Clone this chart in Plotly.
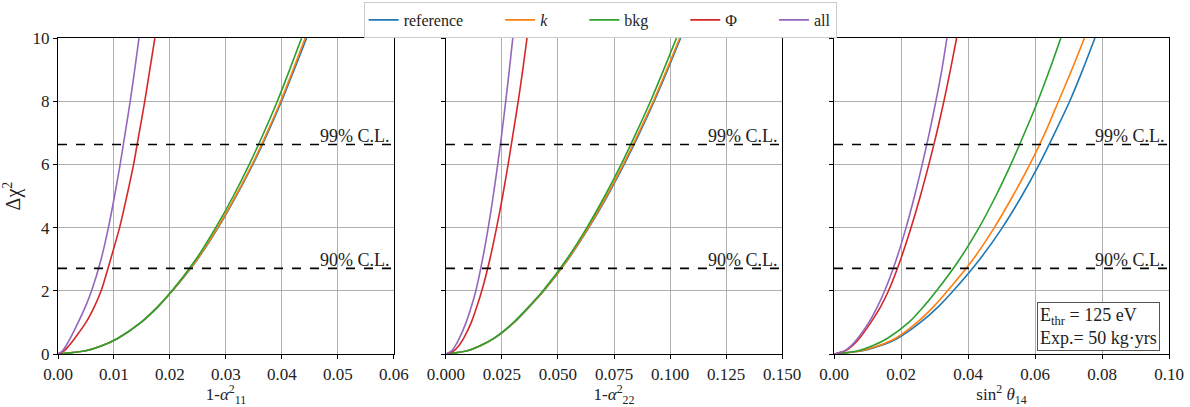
import plotly.graph_objects as go

# Delta chi^2 levels at which each curve is tabulated
dchi2 = [0, 0.1, 0.25, 0.5, 1, 1.5, 2, 3, 4, 5, 6, 7, 8, 9, 10]

# Panel 1: 1 - alpha_11^2
a11_reference = [0, 0.00495, 0.00770, 0.01073, 0.01484, 0.01789, 0.02045, 0.02492, 0.02860, 0.03182, 0.03480, 0.03745, 0.03992, 0.04218, 0.04440]
a11_k = [0, 0.00494, 0.00769, 0.01071, 0.01481, 0.01785, 0.02040, 0.02485, 0.02850, 0.03172, 0.03467, 0.03730, 0.03976, 0.04200, 0.04415]
a11_bkg = [0, 0.00494, 0.00769, 0.01071, 0.01481, 0.01783, 0.02035, 0.02464, 0.02817, 0.03132, 0.03416, 0.03675, 0.03917, 0.04138, 0.04350]
a11_phi = [0, 0.0011, 0.0019, 0.0030, 0.0050, 0.0065, 0.0077, 0.0094, 0.0110, 0.0123, 0.0135, 0.0145, 0.0155, 0.0164, 0.0173]
a11_all = [0, 0.0008, 0.0014, 0.0022, 0.0036, 0.0049, 0.0060, 0.0077, 0.0090, 0.0101, 0.0111, 0.0120, 0.0129, 0.0137, 0.01447]

# Panel 2: 1 - alpha_22^2
a22_reference = [0, 0.00956, 0.01509, 0.02163, 0.03044, 0.03733, 0.04373, 0.05455, 0.06378, 0.07204, 0.07953, 0.08643, 0.09294, 0.09895, 0.10475]
a22_k = [0, 0.00955, 0.01508, 0.02161, 0.03038, 0.03722, 0.04360, 0.05439, 0.06353, 0.07168, 0.07914, 0.08600, 0.09258, 0.09856, 0.10434]
a22_bkg = [0, 0.00950, 0.01500, 0.02150, 0.03020, 0.03700, 0.04330, 0.05390, 0.06290, 0.07090, 0.07820, 0.08490, 0.09130, 0.09720, 0.10290]
a22_phi = [0, 0.00355, 0.00562, 0.00794, 0.01130, 0.01380, 0.01600, 0.01960, 0.02260, 0.02530, 0.02775, 0.03000, 0.03225, 0.03430, 0.03618]
a22_all = [0, 0.00250, 0.00410, 0.00600, 0.00900, 0.01134, 0.01334, 0.01634, 0.01887, 0.02109, 0.02310, 0.02496, 0.02668, 0.02830, 0.02983]

# Panel 3: sin^2 theta_14
s14_reference = [0, 0.00854, 0.01351, 0.01900, 0.02580, 0.03116, 0.03560, 0.04352, 0.05025, 0.05604, 0.06124, 0.06590, 0.07035, 0.07426, 0.07789]
s14_k = [0, 0.00810, 0.01299, 0.01840, 0.02480, 0.02973, 0.03390, 0.04153, 0.04785, 0.05337, 0.05845, 0.06300, 0.06702, 0.07100, 0.07476]
s14_bkg = [0, 0.00719, 0.01131, 0.01600, 0.02232, 0.02674, 0.03061, 0.03749, 0.04329, 0.04830, 0.05279, 0.05690, 0.06082, 0.06438, 0.06771]
s14_phi = [0, 0.00336, 0.00535, 0.00760, 0.01100, 0.01392, 0.01626, 0.01991, 0.02300, 0.02577, 0.02831, 0.03066, 0.03281, 0.03476, 0.03660]
s14_all = [0, 0.00313, 0.00500, 0.00710, 0.01040, 0.01296, 0.01512, 0.01862, 0.02150, 0.02404, 0.02633, 0.02845, 0.03041, 0.03220, 0.03370]

series_names = ["reference", "<i>k</i>", "bkg", "Φ", "all"]
series_colors = ["#1f77b4", "#ff7f0e", "#2ca02c", "#d62728", "#9467bd"]

cl_levels = [2.71, 6.63]
cl_labels = ["90% C.L.", "99% C.L."]

x_titles = ["1-<i>α</i><sup>2</sup><sub>11</sub>",
            "1-<i>α</i><sup>2</sup><sub>22</sub>",
            "sin<sup>2</sup> <i>θ</i><sub>14</sub>"]
x_ranges = [[0, 0.06], [0, 0.15], [0, 0.10]]
x_dticks = [0.01, 0.025, 0.02]
x_formats = [".2f", ".3f", ".2f"]

panels = [
    [a11_reference, a11_k, a11_bkg, a11_phi, a11_all],
    [a22_reference, a22_k, a22_bkg, a22_phi, a22_all],
    [s14_reference, s14_k, s14_bkg, s14_phi, s14_all],
]

FONT = "Liberation Serif, DejaVu Serif, serif"
TXT = "#222222"
domains = [[0.0, 0.3024], [0.3492, 0.6517], [0.6985, 1.0]]
LEGEND_PAD = "\u00a0" * 8  # column spacing between legend entries

fig = go.Figure()

for p, curves in enumerate(panels):
    xa = "x" if p == 0 else f"x{p + 1}"
    ya = "y" if p == 0 else f"y{p + 1}"
    for i, xs in enumerate(curves):
        label = series_names[i] + (LEGEND_PAD if i < len(series_names) - 1 else "")
        fig.add_trace(go.Scatter(
            x=xs, y=dchi2, mode="lines",
            line=dict(color=series_colors[i], width=1.6, shape="spline", smoothing=0.8),
            name=label, legendgroup=series_names[i],
            showlegend=(p == 0), xaxis=xa, yaxis=ya,
        ))
    # confidence-level lines and labels
    for lvl, lab in zip(cl_levels, cl_labels):
        fig.add_shape(type="line", xref=f"{xa} domain", yref=ya,
                      x0=0, x1=1, y0=lvl, y1=lvl,
                      line=dict(color="black", width=1.6, dash="dash"), layer="above")
        fig.add_annotation(xref=f"{xa} domain", yref=ya, x=1, y=lvl,
                           text=lab, showarrow=False, xanchor="right", yanchor="bottom",
                           xshift=-2, yshift=-4, font=dict(family=FONT, size=18, color=TXT))

axis_common = dict(showline=True, linecolor="black", linewidth=1.2, mirror=True,
                   ticks="outside", ticklen=4, tickcolor="black", automargin=False,
                   showgrid=True, gridcolor="#b0b0b0", gridwidth=1, zeroline=False,
                   tickfont=dict(family=FONT, size=17, color=TXT))

layout = {}
for p in range(3):
    key = "xaxis" if p == 0 else f"xaxis{p + 1}"
    ykey = "yaxis" if p == 0 else f"yaxis{p + 1}"
    ya = "y" if p == 0 else f"y{p + 1}"
    xa = "x" if p == 0 else f"x{p + 1}"
    layout[key] = dict(axis_common, domain=domains[p], range=x_ranges[p], anchor=ya,
                       tick0=0, dtick=x_dticks[p], tickformat=x_formats[p],
                       title=dict(text=x_titles[p], standoff=4,
                                  font=dict(family=FONT, size=17, color=TXT)))
    layout[ykey] = dict(axis_common, domain=[0, 1], range=[0, 10], anchor=xa,
                        tick0=0, dtick=2, showticklabels=(p == 0))
    if p == 0:
        layout[ykey]["title"] = dict(text="Δχ<sup>2</sup>", standoff=6,
                                     font=dict(family=FONT, size=20, color=TXT))

fig.update_layout(**layout)

fig.add_annotation(xref="x3 domain", yref="y3 domain", x=0.972, y=0.01,
                   xanchor="right", yanchor="bottom", align="left", showarrow=False,
                   text="E<sub>thr</sub> = 125 eV<br>Exp.= 50 kg·yrs",
                   font=dict(family=FONT, size=18, color=TXT),
                   bordercolor="#555555", borderwidth=1, borderpad=2, bgcolor="white")

fig.update_layout(
    width=1190, height=407,
    margin=dict(l=58, r=21, t=38, b=53, autoexpand=False),
    paper_bgcolor="white", plot_bgcolor="white",
    font=dict(family=FONT, size=17, color=TXT),
    legend=dict(orientation="h", x=0.488, y=1.114, xanchor="center", yanchor="top",
                bordercolor="#cccccc", borderwidth=1, bgcolor="white",
                font=dict(family=FONT, size=16, color=TXT),
                itemwidth=30, tracegroupgap=0),
)

fig.write_html("out.html")
